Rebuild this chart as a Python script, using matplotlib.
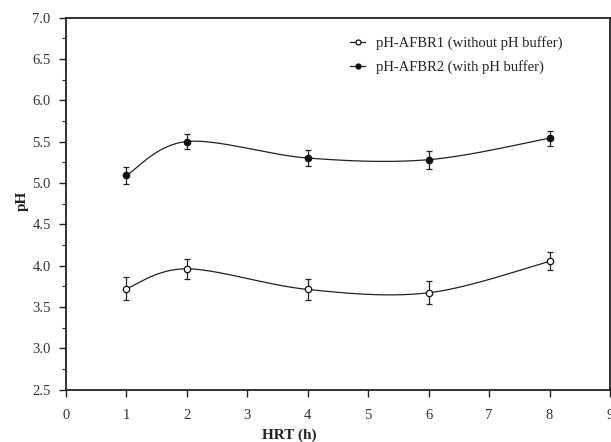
import numpy as np
import matplotlib
matplotlib.use("Agg")
import matplotlib.pyplot as plt
from matplotlib.ticker import MultipleLocator

hrt = [1, 2, 4, 6, 8]
ph_afbr1 = [3.72, 3.96, 3.71, 3.67, 4.05]
err_afbr1 = [0.14, 0.12, 0.13, 0.14, 0.11]
ph_afbr2 = [5.09, 5.50, 5.30, 5.28, 5.54]
err_afbr2 = [0.10, 0.09, 0.10, 0.11, 0.09]
label1 = "pH-AFBR1 (without pH buffer)"
label2 = "pH-AFBR2 (with pH buffer)"


def smooth(x, y, n=40):
    """Excel-like smoothed line via Catmull-Rom Bezier segments."""
    x = np.asarray(x, float)
    y = np.asarray(y, float)
    P = np.column_stack([x, y])
    out = []
    for i in range(len(P) - 1):
        p0 = P[i - 1] if i > 0 else P[i]
        p1 = P[i]
        p2 = P[i + 1]
        p3 = P[i + 2] if i + 2 < len(P) else P[i + 1]
        c1 = p1 + (p2 - p0) / 6.0
        c2 = p2 - (p3 - p1) / 6.0
        t = np.linspace(0, 1, n)[:, None]
        seg = ((1 - t) ** 3) * p1 + 3 * ((1 - t) ** 2) * t * c1 + 3 * (1 - t) * t ** 2 * c2 + t ** 3 * p2
        out.append(seg if i == 0 else seg[1:])
    s = np.vstack(out)
    return s[:, 0], s[:, 1]


plt.rcParams['font.family'] = ['Liberation Serif', 'DejaVu Serif']
fig = plt.figure(figsize=(6.11, 4.42), dpi=100)
ax = fig.add_axes([66 / 611, (442 - 389.5) / 442, (610 - 66) / 611, (389.5 - 17.5) / 442])

lc = '#222222'
for y, e, face, lab in [(ph_afbr1, err_afbr1, 'white', label1), (ph_afbr2, err_afbr2, '#111111', label2)]:
    sx, sy = smooth(hrt, y)
    ax.plot(sx, sy, color=lc, lw=0.9, zorder=2)
    ax.errorbar(hrt, y, yerr=e, fmt='none', ecolor=lc, elinewidth=0.9, capsize=2.0, capthick=0.9, zorder=3)
    ax.plot(hrt, y, linestyle='none', marker='o', ms=4.6, mfc=face, mec='#111111', mew=0.9, zorder=4)
    ax.plot([], [], color=lc, lw=0.9, marker='o', ms=3.6, mfc=face, mec='#111111', mew=0.9, label=lab)

ax.set_xlim(0, 9)
ax.set_ylim(2.5, 7.0)
ax.xaxis.set_major_locator(MultipleLocator(1))
ax.yaxis.set_major_locator(MultipleLocator(0.5))
ax.yaxis.set_minor_locator(MultipleLocator(0.25))
ax.yaxis.set_major_formatter(matplotlib.ticker.FormatStrFormatter('%.1f'))
ax.tick_params(axis='both', which='major', direction='out', length=5, width=1, color=lc,
               labelsize=10.5, labelcolor='#333333')
ax.tick_params(axis='y', which='major', pad=6)
ax.tick_params(axis='x', which='major', pad=9)
ax.tick_params(axis='y', which='minor', direction='out', length=3, width=0.8, color=lc)
for s in ax.spines.values():
    s.set_color(lc)
    s.set_linewidth(1.3)

fig.text(22 / 611, 1 - 201 / 442, 'pH', rotation=90, fontsize=11, fontweight='bold',
         ha='center', va='center', color='#222222')
fig.text(289 / 611, 1 - 435 / 442, 'HRT (h)', fontsize=11, fontweight='bold',
         ha='center', va='center', color='#222222')

ax.legend(loc='upper left', bbox_to_anchor=(350 / 611, 1 - 36 / 442), bbox_transform=fig.transFigure,
          frameon=False, fontsize=10.5, handlelength=1.05, handletextpad=0.75, labelspacing=0.68,
          borderpad=0, borderaxespad=0, labelcolor='#222222')

fig.savefig('out.png', dpi=100)
